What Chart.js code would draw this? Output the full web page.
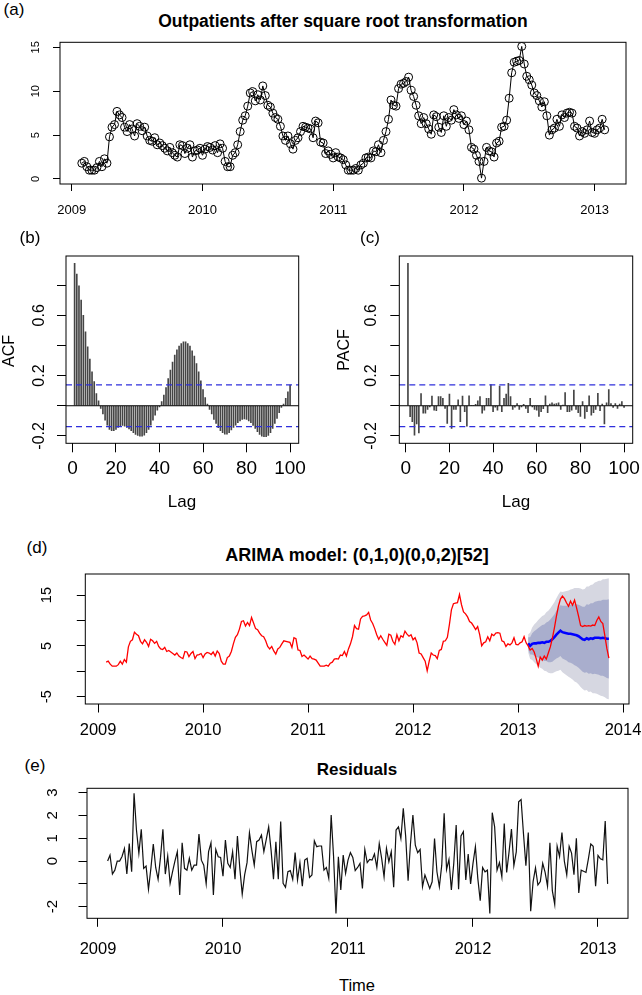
<!DOCTYPE html>
<html lang="en">
<head>
    <meta charset="UTF-8">
    <title>Outpatients ARIMA panels</title>
    <script src="https://cdn.jsdelivr.net/npm/chart.js"></script>
    <style>
        body { margin: 0; background: #fff; font-family: "Liberation Sans", Arial, sans-serif; }
        #page { position: relative; width: 642px; height: 995px; overflow: hidden; background: #fff; }
        canvas { position: absolute; }
        .lbl { position: absolute; white-space: nowrap; transform: translate(-50%, -50%); color: #000; line-height: 1; }
        .bold { font-weight: bold; }
        .rot { transform: translate(-50%, -50%) rotate(-90deg); }
    </style>
</head>
<body>
<div id="page">
    <div class="lbl" style="left:14px;top:9px;font-size:17px">(a)</div>
    <div class="lbl bold" style="left:343px;top:22px;font-size:17.5px">Outpatients after square root transformation</div>
    <canvas id="chartA" width="642" height="200" style="left:0;top:30px"></canvas>

    <div class="lbl" style="left:30px;top:237px;font-size:17px">(b)</div>
    <div class="lbl rot" style="left:9px;top:351px;font-size:16px">ACF</div>
    <canvas id="chartB" width="321" height="290" style="left:0;top:230px"></canvas>
    <div class="lbl" style="left:182px;top:501px;font-size:17px">Lag</div>

    <div class="lbl" style="left:370px;top:237px;font-size:17px">(c)</div>
    <div class="lbl rot" style="left:344px;top:350px;font-size:16px">PACF</div>
    <canvas id="chartC" width="321" height="290" style="left:321px;top:230px"></canvas>
    <div class="lbl" style="left:516px;top:501px;font-size:17px">Lag</div>

    <div class="lbl" style="left:37px;top:547px;font-size:17px">(d)</div>
    <div class="lbl bold" style="left:357px;top:555px;font-size:18px">ARIMA model: (0,1,0)(0,0,2)[52]</div>
    <canvas id="chartD" width="642" height="190" style="left:0;top:560px"></canvas>

    <div class="lbl" style="left:35px;top:765px;font-size:17px">(e)</div>
    <div class="lbl bold" style="left:357px;top:769px;font-size:17px">Residuals</div>
    <canvas id="chartE" width="642" height="200" style="left:0;top:775px"></canvas>
    <div class="lbl" style="left:357px;top:985px;font-size:16.5px">Time</div>
</div>

<script>
    // weekly series, frequency 52, first observation in week 5 of 2009
    const START = 2009 + 4 / 52;
    const FREQ = 52;
    const N_TRAIN = 209;

    // square-root outpatients: 209 training weeks followed by 41 test weeks
    const OBS = [
        1.8, 2.0, 1.4, 1.0, 1.0, 1.0, 1.3, 2.0, 1.4, 2.3,
        1.8, 4.8, 5.9, 6.2, 7.7, 7.3, 7.0, 5.9, 5.4, 6.2,
        5.7, 4.9, 6.3, 6.0, 5.5, 5.9, 4.9, 4.4, 4.3, 4.7,
        3.9, 4.1, 3.8, 3.5, 3.2, 3.6, 3.0, 2.7, 2.5, 3.9,
        3.8, 2.9, 3.5, 3.9, 2.5, 3.2, 3.3, 3.5, 2.7, 3.4,
        3.7, 3.6, 3.3, 3.8, 3.0, 4.0, 3.5, 2.0, 1.4, 1.4,
        2.7, 3.0, 3.9, 5.4, 6.7, 7.2, 8.3, 9.8, 9.95, 8.9,
        9.6, 9.0, 10.6, 9.5, 8.4, 8.2, 7.5, 7.0, 6.8, 6.0,
        4.9, 4.4, 4.9, 4.0, 3.4, 4.4, 4.7, 5.4, 6.0, 5.9,
        5.8, 5.7, 4.7, 6.6, 6.4, 4.2, 4.1, 2.9, 3.2, 2.8,
        2.4, 3.0, 2.5, 2.4, 2.2, 1.6, 1.0, 1.0, 1.0, 1.2,
        1.0, 1.6, 1.8, 2.4, 2.5, 2.4, 3.2, 3.1, 3.9, 3.0,
        4.4, 5.4, 6.8, 9.0, 8.4, 8.3, 10.3, 10.8, 10.9, 11.1,
        11.6, 10.1, 9.4, 8.4, 7.2, 6.3, 7.0, 6.3, 5.7, 5.1,
        7.3, 7.1, 5.9, 5.3, 7.2, 6.0, 7.0, 6.7, 7.9, 7.3,
        6.9, 7.2, 6.2, 6.6, 5.6, 3.6, 3.4, 2.7, 2.0, 0.1,
        2.0, 3.6, 3.2, 3.1, 2.5, 4.1, 4.3, 5.9, 6.0, 6.7,
        9.2, 12.1, 13.3, 13.4, 13.5, 15.1, 13.1, 11.7, 11.3, 10.7,
        9.8, 9.5, 8.9, 8.2, 8.8, 7.2, 5.0, 5.6, 5.8, 6.8,
        6.0, 7.3, 7.0, 7.5, 7.6, 7.5, 6.0, 5.8, 4.9, 5.4,
        5.2, 5.6, 6.6, 5.3, 5.2, 5.6, 5.8, 6.8, 5.6,
        5.0, 4.2, 4.5, 3.8, 2.5, 1.0, 2.8, 2.2, 3.0, 2.4,
        3.6, 4.8, 6.5, 8.5, 10.8, 12.8, 14.2, 14.8, 14.3, 13.5,
        12.8, 13.8, 13.0, 14.0, 12.5, 10.8, 9.0, 8.8, 9.0, 8.9,
        9.0, 8.9, 9.1, 9.0, 10.0, 10.7, 9.8, 9.4, 7.0, 4.5,
        2.6
    ];

    // forecast for the 41 test weeks
    const FC_MEAN = [5.5, 5.0, 5.4, 5.5, 5.5, 5.6, 5.6, 5.7, 5.6, 5.8, 5.8, 6.0, 6.3, 6.7, 7.2, 7.6, 8.0, 7.7, 7.6, 7.5,
        7.4, 7.4, 7.3, 7.2, 7.1, 6.9, 6.6, 6.3, 6.2, 6.5, 6.3, 6.5, 6.4, 6.6, 6.6, 6.6, 6.5, 6.6, 6.5, 6.4, 6.4];
    const FC_HI80 = [6.7, 6.7, 7.5, 7.9, 8.2, 8.5, 8.8, 9.1, 9.2, 9.6, 9.8, 10.2, 10.7, 11.2, 11.9, 12.5, 13.0, 12.9, 12.9, 12.9,
        13.0, 13.1, 13.1, 13.2, 13.2, 13.1, 12.9, 12.7, 12.7, 13.2, 13.1, 13.4, 13.4, 13.7, 13.8, 13.9, 13.9, 14.1, 14.1, 14.1, 14.2];
    const FC_LO80 = [4.3, 3.3, 3.3, 3.1, 2.8, 2.7, 2.4, 2.3, 2.0, 2.0, 1.8, 1.8, 1.9, 2.2, 2.5, 2.7, 3.0, 2.5, 2.3, 2.1,
        1.8, 1.7, 1.5, 1.2, 1.0, 0.7, 0.3, -0.1, -0.3, -0.2, -0.5, -0.4, -0.6, -0.5, -0.6, -0.7, -0.9, -0.9, -1.1, -1.3, -1.4];
    const FC_HI95 = [7.3, 7.6, 8.6, 9.2, 9.6, 10.1, 10.5, 10.9, 11.1, 11.6, 11.9, 12.4, 13.0, 13.6, 14.4, 15.1, 15.7, 15.6, 15.7, 15.8,
        15.9, 16.1, 16.2, 16.4, 16.4, 16.4, 16.3, 16.1, 16.2, 16.7, 16.7, 17.0, 17.1, 17.5, 17.6, 17.8, 17.8, 18.1, 18.1, 18.2, 18.3];
    const FC_LO95 = [3.7, 2.4, 2.2, 1.8, 1.4, 1.1, 0.7, 0.5, 0.1, 0.0, -0.3, -0.4, -0.4, -0.2, 0.0, 0.1, 0.3, -0.2, -0.5, -0.8,
        -1.1, -1.3, -1.6, -2.0, -2.2, -2.6, -3.1, -3.5, -3.8, -3.7, -4.1, -4.0, -4.3, -4.3, -4.4, -4.6, -4.8, -4.9, -5.1, -5.4, -5.5];

    // model residuals over the training weeks
    const RESID = [
        0.0, 0.26, -0.57, -0.4, 0.0, 0.0, 0.2, 0.55, -0.57, 0.77,
        -0.47, 2.97, 1.36, 0.34, 1.39, -0.32, -0.22, -1.24, -0.32, 0.75,
        -0.28, -0.8, 0.16, 1.39, -0.57, 0.22, -0.98, -0.47, 0.0, 0.41,
        -1.49, 0.8, -0.32, -0.4, 0.12, -0.4, -0.18, -0.18, 1.18, 0.04,
        -0.18, -1.0, 0.41, 0.8, -1.49, 0.51, 0.19, 0.16, -0.66, 0.92,
        -0.1, -0.28, 0.41, -0.8, 1.1, -0.32, -1.45, -0.61, -0.07, 1.24,
        0.48, -0.18, 0.85, 0.92, 1.14, 0.41, 0.95, 1.5, 0.48, -0.8,
        0.85, -0.8, 1.73, -0.98, -1.15, -0.47, -0.42, -0.8, 0.37, -0.83,
        -0.07, -1.1, 0.04, 0.12, -0.72, -0.61, 0.89, 0.63, 0.66, 0.66,
        -0.4, -0.28, -0.76, 2.02, 0.19, -2.3, 0.19, -1.27, 0.26, -0.54,
        0.04, 0.37, 0.16, -0.42, -0.28, -0.1, -1.2, 0.51, -0.07, 0.07,
        0.04, 0.31, -0.28, 0.77, 0.12, -0.69, 0.56, -0.03, 0.41, -1.15,
        1.36, 1.5, 0.99, 2.31, 1.07, -0.86, 0.77, 2.02, 0.7, 0.37,
        0.51, -1.13, -0.61, -0.91, -1.2, -0.91, 0.99, -0.47, -1.13, -0.18,
        2.09, -0.37, 0.07, -1.27, -0.1, 1.58, -1.24, 1.1, 1.29, -0.83,
        0.31, -1.0, -0.1, 0.63, -0.76, -1.74, -0.28, -0.47, -0.4, -2.3,
        2.12, 1.5, -0.4, -0.07, -0.69, 1.65, -0.5, 0.4, 1.4, -0.2,
        0.4, 2.6, 2.7, 1.2, -0.2, 1.25, -2.2, -0.9, -0.3, -1.05,
        -0.9, -0.1, -0.5, -1.1, 0.8, -1.3, -1.9, 0.65, 0.2, 1.25,
        0.0, -0.6, 0.65, 0.35, -0.6, 1.0, -1.4, -0.4, -0.45, -0.5,
        0.1, 0.75, 0.65, -1.1, 0.25, 0.1, 0.05, 1.75, -1.0
    ];

    // autocorrelations, lags 1..100
    const ACF = [
        0.945, 0.873, 0.796, 0.70, 0.60, 0.49, 0.39, 0.31, 0.225, 0.16,
        0.08, 0.033, -0.018, -0.055, -0.095, -0.128, -0.157, -0.166, -0.166, -0.157,
        -0.144, -0.135, -0.13, -0.135, -0.144, -0.153, -0.166, -0.179, -0.19, -0.197,
        -0.201, -0.201, -0.195, -0.179, -0.157, -0.128, -0.095, -0.062, -0.029, -0.007,
        0.027, 0.07, 0.12, 0.18, 0.237, 0.29, 0.336, 0.37, 0.396, 0.413,
        0.424, 0.424, 0.413, 0.396, 0.365, 0.33, 0.28, 0.225, 0.166, 0.108,
        0.055, 0.011, -0.024, -0.055, -0.09, -0.117, -0.146, -0.166, -0.179, -0.188,
        -0.188, -0.179, -0.161, -0.144, -0.128, -0.113, -0.1, -0.09, -0.088, -0.09,
        -0.1, -0.113, -0.13, -0.15, -0.172, -0.19, -0.201, -0.205, -0.205, -0.197,
        -0.179, -0.15, -0.117, -0.084, -0.046, -0.011, 0.011, 0.049, 0.093, 0.137
    ];
    const PACF = [
        0.945, -0.073, -0.106, -0.195, -0.12, -0.18, 0.08, -0.05, -0.05, -0.025,
        -0.007, 0.064, -0.03, -0.033, 0.06, 0.06, 0.05, -0.018, -0.117, 0.077,
        -0.15, -0.024, -0.024, 0.04, -0.106, 0.064, -0.04, -0.135, 0.066, 0.0,
        0.0, 0.01, 0.033, 0.06, -0.05, -0.03, 0.05, 0.05, 0.14, -0.04,
        -0.01, -0.03, 0.13, -0.04, 0.05, 0.077, 0.148, 0.06, -0.024, -0.01,
        0.015, -0.024, -0.007, 0.01, -0.018, -0.046, 0.05, -0.007, -0.024, -0.03,
        -0.07, -0.04, -0.02, 0.066, -0.046, 0.011, 0.02, 0.011, 0.015, 0.02,
        -0.024, 0.004, 0.088, -0.04, -0.04, -0.03, 0.104, -0.024, -0.046, -0.07,
        0.027, -0.084, -0.04, 0.066, -0.062, -0.046, -0.024, 0.082, -0.033, 0.011,
        -0.12, 0.02, 0.108, 0.015, -0.011, 0.015, -0.018, 0.011, 0.027, -0.011
    ];
    const LAGS = Array.from({ length: ACF.length }, (_, k) => k + 1);
    const CI = 0.138; // 2 / sqrt(209)

    // tick values
    const YEAR_TICKS = [2009, 2010, 2011, 2012, 2013];
    const YEAR_TICKS_D = [2009, 2010, 2011, 2012, 2013, 2014];
    const LAG_TICKS = [0, 20, 40, 60, 80, 100];
    const A_YTICKS = [0, 5, 10, 15];
    const COR_YTICKS = [-0.2, 0, 0.2, 0.4, 0.6, 0.8];
    const COR_YLABELS = [-0.2, 0.2, 0.6];
    const D_YTICKS = [-5, 0, 5, 10, 15];
    const D_YLABELS = [-5, 5, 15];
    const E_YTICKS = [-2, -1, 0, 1, 2, 3];
    const E_YLABELS = [-2, 0, 1, 2, 3];

    Chart.defaults.font.family = '"Liberation Sans", Arial, sans-serif';
    Chart.defaults.color = '#000';

    // box, R-style rotated y labels, horizontal reference lines
    const rPlot = {
        id: 'rplot',
        afterDatasetsDraw(chart, args, o) {
            const { ctx, chartArea: a } = chart;
            const ys = chart.scales.y;
            (o.hlines || []).forEach(h => {
                const y = ys.getPixelForValue(h.value);
                ctx.save();
                ctx.strokeStyle = h.color;
                ctx.lineWidth = h.width;
                ctx.setLineDash(h.dash || []);
                ctx.beginPath();
                ctx.moveTo(a.left, y);
                ctx.lineTo(a.right, y);
                ctx.stroke();
                ctx.restore();
            });
        },
        afterDraw(chart, args, o) {
            const { ctx, chartArea: a } = chart;
            const xs = chart.scales.x, ys = chart.scales.y;
            ctx.save();
            ctx.fillStyle = '#000';
            ctx.textAlign = 'center';
            ctx.textBaseline = 'middle';
            ctx.font = o.xFont;
            xs.ticks.forEach(t => ctx.fillText(String(t.value), xs.getPixelForValue(t.value), a.bottom + o.xOff));
            ctx.font = o.yFont;
            ys.ticks.forEach(t => {
                if (!o.yShow.includes(t.value)) return;
                ctx.save();
                ctx.translate(a.left - o.yOff, ys.getPixelForValue(t.value));
                ctx.rotate(-Math.PI / 2);
                ctx.fillText(String(t.value), 0, 0);
                ctx.restore();
            });
            ctx.strokeStyle = '#000';
            ctx.lineWidth = 1;
            ctx.strokeRect(a.left, a.top, a.width, a.height);
            ctx.restore();
        }
    };
    Chart.register(rPlot);

    function rScale(min, max, ticks, size, tickLen) {
        return {
            type: 'linear', min: min, max: max, offset: false,
            afterBuildTicks: s => { s.ticks = ticks.map(v => ({ value: v })); },
            afterFit: s => { if (s.isHorizontal()) s.height = size; else s.width = size; },
            grid: { drawOnChartArea: false, drawTicks: true, tickLength: tickLen, color: '#000', lineWidth: 1, offset: false },
            border: { display: false },
            ticks: { display: false }
        };
    }

    function baseOptions(padding, x, y, rplot) {
        return {
            responsive: false,
            animation: false,
            events: [],
            layout: { padding: padding },
            scales: { x: x, y: y },
            plugins: { legend: { display: false }, tooltip: { enabled: false }, rplot: rplot }
        };
    }

    const timeOf = i => START + i / FREQ;
    const series = (arr, offset) => arr.map((v, i) => ({ x: timeOf(i + offset), y: v }));

    // (a) training series with circles
    new Chart(document.getElementById('chartA'), {
        type: 'line',
        data: {
            datasets: [{
                data: series(OBS.slice(0, N_TRAIN), 0),
                borderColor: '#000', borderWidth: 1, tension: 0,
                pointRadius: 4, pointBorderWidth: 1, pointBorderColor: '#000',
                pointBackgroundColor: 'rgba(0,0,0,0)'
            }]
        },
        options: baseOptions({ top: 12.3, right: 16, left: 0, bottom: 0 },
            rScale(2008.91, 2013.24, YEAR_TICKS, 46, 7),
            rScale(-0.57, 15.57, A_YTICKS, 60, 7),
            { xFont: '13px "Liberation Sans"', xOff: 26, yFont: '11px "Liberation Sans"', yOff: 24, yShow: A_YTICKS })
    });

    // (b), (c) correlograms
    function corChart(id, values, yAxisWidth, rightPad, yOff) {
        new Chart(document.getElementById(id), {
            type: 'bar',
            data: {
                datasets: [{
                    data: values.map((v, k) => ({ x: LAGS[k], y: v })),
                    backgroundColor: '#454545', borderWidth: 0, barThickness: 1
                }]
            },
            options: baseOptions({ top: 26, right: rightPad, left: 0, bottom: 0 },
                rScale(-2.96, 103.96, LAG_TICKS, 76.7, 9),
                rScale(-0.249, 0.993, COR_YTICKS, yAxisWidth, 9),
                {
                    xFont: '19px "Liberation Sans"', xOff: 25, yFont: '16px "Liberation Sans"', yOff: yOff, yShow: COR_YLABELS,
                    hlines: [
                        { value: 0, color: '#000', width: 1 },
                        { value: CI, color: '#2f2fdc', width: 1.2, dash: [6, 4] },
                        { value: -CI, color: '#2f2fdc', width: 1.2, dash: [6, 4] }
                    ]
                })
        });
    }
    corChart('chartB', ACF, 66, 22.3, 26);
    corChart('chartC', PACF, 78.3, 9.3, 27.6);

    // (d) observed series with forecast fan
    new Chart(document.getElementById('chartD'), {
        type: 'line',
        data: {
            datasets: [
                { data: series(OBS, 0), borderColor: '#ff0000', borderWidth: 1.3, pointRadius: 0, tension: 0, fill: false },
                { data: series(FC_MEAN, N_TRAIN), borderColor: '#0000ff', borderWidth: 2.6, pointRadius: 0, tension: 0, fill: false },
                { data: series(FC_LO80, N_TRAIN), borderWidth: 0, pointRadius: 0, tension: 0, fill: false },
                { data: series(FC_HI80, N_TRAIN), borderWidth: 0, pointRadius: 0, tension: 0, fill: '-1', backgroundColor: '#a9aecd' },
                { data: series(FC_LO95, N_TRAIN), borderWidth: 0, pointRadius: 0, tension: 0, fill: false },
                { data: series(FC_HI95, N_TRAIN), borderWidth: 0, pointRadius: 0, tension: 0, fill: '-1', backgroundColor: '#d6d7e1' }
            ]
        },
        options: baseOptions({ top: 14, right: 13, left: 0, bottom: 0 },
            rScale(2008.878, 2014.057, YEAR_TICKS_D, 46, 8.5),
            rScale(-6.44, 19.15, D_YTICKS, 85.3, 8.5),
            { xFont: '16.5px "Liberation Sans"', xOff: 26, yFont: '14.5px "Liberation Sans"', yOff: 38.3, yShow: D_YLABELS })
    });

    // (e) residuals
    new Chart(document.getElementById('chartE'), {
        type: 'line',
        data: {
            datasets: [{ data: series(RESID, 0), borderColor: '#111', borderWidth: 1.2, pointRadius: 0, tension: 0, fill: false }]
        },
        options: baseOptions({ top: 13.3, right: 14, left: 0, bottom: 0 },
            rScale(2008.912, 2013.24, YEAR_TICKS, 56.7, 8.5),
            rScale(-2.51, 3.19, E_YTICKS, 87, 8.5),
            { xFont: '16.5px "Liberation Sans"', xOff: 30.7, yFont: '15px "Liberation Sans"', yOff: 34, yShow: E_YLABELS })
    });
</script>
</body>
</html>
